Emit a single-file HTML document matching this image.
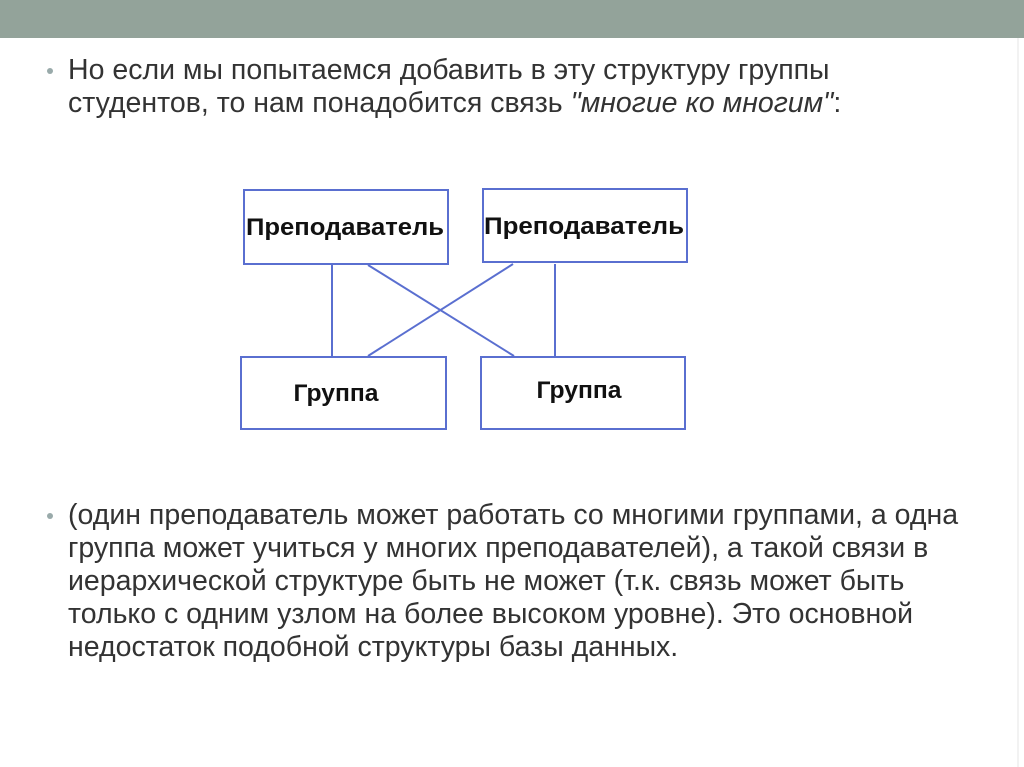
<!DOCTYPE html>
<html><head><meta charset="utf-8"><style>
body{margin:0;width:1024px;height:767px;background:#fff;position:relative;overflow:hidden;font-family:"Liberation Sans",sans-serif;}
.bar{position:absolute;left:0;top:0;width:1024px;height:38px;background:#93a39a;}
.vl{position:absolute;left:1017px;top:38px;width:2px;height:729px;background:#f2f2f2;}
.p{position:absolute;left:68px;color:#333;font-size:28.5px;line-height:33px;white-space:nowrap;}
.dot{position:absolute;left:47px;width:6px;height:6px;border-radius:3px;background:#9aa;}
</style></head><body>
<div class="bar"></div><div class="vl"></div>
<div class="dot" style="top:68px"></div>
<div class="p" style="top:54px">Но если мы попытаемся добавить в эту структуру группы<br>студентов, то нам понадобится связь <i>"многие ко многим"</i>:</div>
<svg style="position:absolute;left:0;top:0" width="1024" height="767">
<g fill="#fff" stroke="#5a6fd0" stroke-width="2">
<rect x="244" y="190" width="204" height="74"/>
<rect x="483" y="189" width="204" height="73"/>
<rect x="241" y="357" width="205" height="72"/>
<rect x="481" y="357" width="204" height="72"/>
</g>
<g stroke="#5a6fd0" stroke-width="2">
<line x1="332" y1="264" x2="332" y2="357"/>
<line x1="555" y1="264" x2="555" y2="357"/>
<line x1="368" y1="265" x2="514" y2="356"/>
<line x1="513" y1="264" x2="368" y2="356"/>
</g>
<g font-family="Liberation Sans, sans-serif" font-weight="bold" font-size="24" fill="#111" text-anchor="middle">
<text x="345" y="235" textLength="198" lengthAdjust="spacingAndGlyphs">Преподаватель</text>
<text x="584" y="234" textLength="200" lengthAdjust="spacingAndGlyphs">Преподаватель</text>
<text x="336" y="401" textLength="85" lengthAdjust="spacingAndGlyphs">Группа</text>
<text x="579" y="398" textLength="85" lengthAdjust="spacingAndGlyphs">Группа</text>
</g>
</svg>
<div class="dot" style="top:513px"></div>
<div class="p" style="top:499px">(один преподаватель может работать со многими группами, а одна<br>группа может учиться у многих преподавателей), а такой связи в<br>иерархической структуре быть не может (т.к. связь может быть<br>только с одним узлом на более высоком уровне). Это основной<br>недостаток подобной структуры базы данных.</div>
</body></html>
